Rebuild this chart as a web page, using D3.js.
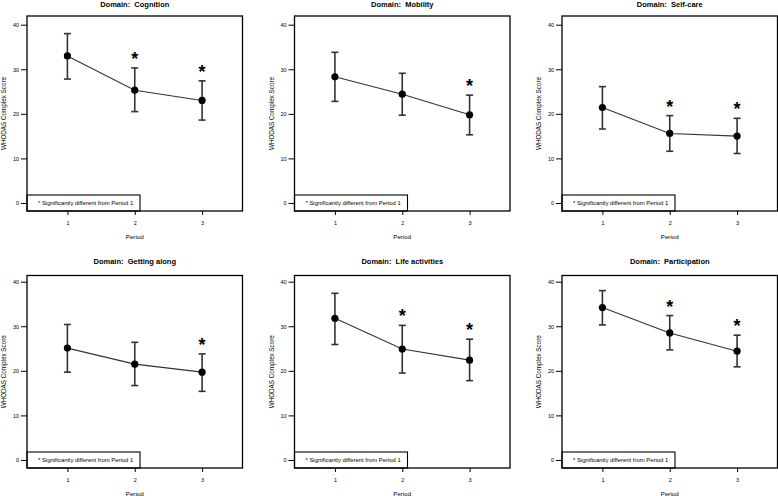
<!DOCTYPE html>
<html lang="en">
<head>
  <meta charset="UTF-8">
  <title>WHODAS domains by period</title>
  <script src="https://d3js.org/d3.v7.min.js"></script>
  <style>
    body { margin: 0; background: #fff; }
    svg { font-family: "Liberation Sans", Arial, sans-serif; }
    .axis .domain { display: none; }
    .axis line { stroke: #000; }
  </style>
</head>
<body>
  <svg id="chart" width="778" height="496"></svg>

  <script>
    // values
    const domains = ["Cognition", "Mobility", "Self-care", "Getting along", "Life activities", "Participation"];
    const periods = [1, 2, 3];
    const yTicks = [0, 10, 20, 30, 40];
    const meanScores = [
      [33.0, 25.3, 23.0],
      [28.3, 24.4, 19.8],
      [21.4, 15.6, 15.0],
      [25.1, 21.5, 19.7],
      [31.8, 24.9, 22.4],
      [34.2, 28.5, 24.4]
    ];
    const upperCI = [
      [38.0, 30.3, 27.4],
      [33.8, 29.1, 24.2],
      [26.1, 19.6, 19.0],
      [30.4, 26.4, 23.8],
      [37.4, 30.2, 27.1],
      [38.0, 32.4, 28.0]
    ];
    const lowerCI = [
      [27.8, 20.5, 18.6],
      [22.8, 19.7, 15.3],
      [16.6, 11.6, 11.1],
      [19.7, 16.7, 15.4],
      [25.9, 19.5, 17.8],
      [30.3, 24.7, 20.9]
    ];
    const significant = [
      [false, true, true],
      [false, false, true],
      [false, true, true],
      [false, false, true],
      [false, true, true],
      [false, true, true]
    ];
    const legendText = "* Significantly different from Period 1";

    const svg = d3.select("#chart");
    const colStep = 267.5, rowStep = 257;
    const box = { left: 27, right: 242.5, bottom: 211 };
    const boxTop = [16, 18.5];

    const xScale = d3.scaleLinear().domain([0.4, 3.6]).range([box.left, box.right]);
    const yScale = d3.scaleLinear().domain([-1.8, 41.95]).range([box.bottom, 16]);

    function drawPanel(i) {
      const col = i % 3, row = Math.floor(i / 3);
      const g = svg.append("g").attr("transform", `translate(${col * colStep},${row * rowStep})`);
      const top = boxTop[row];

      const rows = periods.map((p, j) => ({
        period: p, mean: meanScores[i][j], hi: upperCI[i][j], lo: lowerCI[i][j], sig: significant[i][j]
      }));

      // title
      g.append("text")
        .attr("x", (box.left + box.right) / 2)
        .attr("y", 7)
        .attr("text-anchor", "middle")
        .attr("font-size", "7.5px")
        .attr("font-weight", "bold")
        .attr("xml:space", "preserve")
        .text("Domain:  " + domains[i]);

      // axes
      g.append("g").attr("class", "axis")
        .attr("transform", `translate(${box.left},0)`)
        .call(d3.axisLeft(yScale).tickValues(yTicks).tickSize(6).tickPadding(2))
        .selectAll("text").attr("font-size", "5.5px").attr("font-family", null);

      g.append("g").attr("class", "axis")
        .attr("transform", `translate(0,${box.bottom})`)
        .call(d3.axisBottom(xScale).tickValues(periods).tickFormat(d3.format("d")).tickSize(4).tickPadding(6))
        .selectAll("text").attr("font-size", "5.5px").attr("font-family", null);

      g.append("text")
        .attr("transform", `translate(6,${(top + box.bottom) / 2}) rotate(-90)`)
        .attr("text-anchor", "middle")
        .attr("font-size", "6.3px")
        .text("WHODAS Complex Score");

      g.append("text")
        .attr("x", xScale(2))
        .attr("y", 239)
        .attr("text-anchor", "middle")
        .attr("font-size", "6.2px")
        .text("Period");

      // frame
      g.append("rect")
        .attr("x", box.left).attr("y", top)
        .attr("width", box.right - box.left).attr("height", box.bottom - top)
        .attr("fill", "none").attr("stroke", "#000").attr("stroke-width", 1.3);

      // legend
      g.append("rect")
        .attr("x", box.left).attr("y", 195)
        .attr("width", 113).attr("height", box.bottom - 195)
        .attr("fill", "none").attr("stroke", "#000").attr("stroke-width", 1.1);
      g.append("text")
        .attr("x", box.left + 11).attr("y", 204.5)
        .attr("font-size", "5.9px")
        .text(legendText);

      // mean line
      g.append("path")
        .datum(rows)
        .attr("fill", "none")
        .attr("stroke", "#333")
        .attr("stroke-width", 1.1)
        .attr("d", d3.line().x(d => xScale(d.period)).y(d => yScale(d.mean)));

      // error bars
      const bars = g.selectAll("g.err").data(rows).join("g").attr("class", "err")
        .attr("stroke", "#333").attr("stroke-width", 1.6);
      bars.append("line")
        .attr("x1", d => xScale(d.period)).attr("x2", d => xScale(d.period))
        .attr("y1", d => yScale(d.hi)).attr("y2", d => yScale(d.lo));
      bars.append("line")
        .attr("x1", d => xScale(d.period) - 3.5).attr("x2", d => xScale(d.period) + 3.5)
        .attr("y1", d => yScale(d.hi)).attr("y2", d => yScale(d.hi));
      bars.append("line")
        .attr("x1", d => xScale(d.period) - 3.5).attr("x2", d => xScale(d.period) + 3.5)
        .attr("y1", d => yScale(d.lo)).attr("y2", d => yScale(d.lo));

      g.selectAll("circle.pt").data(rows).join("circle").attr("class", "pt")
        .attr("cx", d => xScale(d.period))
        .attr("cy", d => yScale(d.mean))
        .attr("r", 3.6)
        .attr("fill", "#000");

      // significance stars
      g.selectAll("text.star").data(rows.filter(d => d.sig)).join("text").attr("class", "star")
        .attr("x", d => xScale(d.period))
        .attr("y", d => yScale(d.hi) - 3)
        .attr("text-anchor", "middle")
        .attr("font-size", "18px")
        .attr("font-weight", "bold")
        .text("*");
    }

    domains.forEach((d, i) => drawPanel(i));
  </script>
</body>
</html>
